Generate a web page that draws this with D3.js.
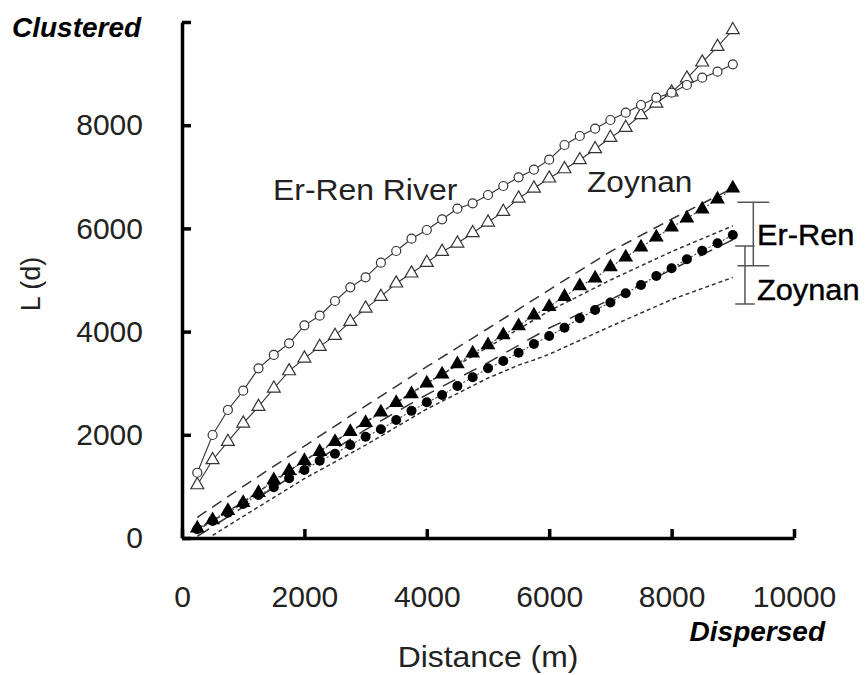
<!DOCTYPE html>
<html>
<head>
<meta charset="utf-8">
<script src="https://cdn.jsdelivr.net/npm/d3@7"></script>
<style>
  body { margin: 0; background: #fff; }
  svg { font-family: "Liberation Sans", Arial, sans-serif; }
</style>
</head>
<body>
<div id="chart"></div>
<script>
// distance classes (m)
const distances = [250, 500, 750, 1000, 1250, 1500, 1750, 2000, 2250, 2500, 2750, 3000,
  3250, 3500, 3750, 4000, 4250, 4500, 4750, 5000, 5250, 5500, 5750, 6000,
  6250, 6500, 6750, 7000, 7250, 7500, 7750, 8000, 8250, 8500, 8750, 9000];

// observed L(d)
const erRenObs = [1265, 1996, 2481, 2855, 3288, 3547, 3773, 4122, 4308, 4593, 4858, 5052,
  5336, 5562, 5800, 5969, 6176, 6382, 6486, 6647, 6822, 6990, 7138, 7332,
  7616, 7791, 7932, 8101, 8242, 8391, 8533, 8630, 8779, 8921, 9037, 9180];
const zoynanObs = [1027, 1512, 1866, 2222, 2545, 2901, 3236, 3482, 3708, 3921, 4192, 4451,
  4677, 4936, 5130, 5336, 5549, 5711, 5911, 6118, 6324, 6583, 6777, 6971,
  7151, 7326, 7539, 7758, 7952, 8198, 8424, 8638, 8909, 9219, 9521, 9845];

// simulated means
const erRenSim = [188, 349, 529, 684, 878, 1124, 1304, 1498, 1672, 1866, 2060, 2234,
  2436, 2622, 2791, 2998, 3172, 3372, 3579, 3740, 3934, 4109, 4316, 4483,
  4677, 4884, 5033, 5252, 5440, 5634, 5828, 6021, 6196, 6370, 6564, 6777];
const zoynanSim = [170, 330, 490, 659, 833, 982, 1157, 1318, 1498, 1634, 1802, 1963,
  2107, 2287, 2464, 2630, 2771, 2946, 3114, 3288, 3430, 3591, 3760, 3915,
  4076, 4258, 4419, 4564, 4742, 4903, 5078, 5227, 5401, 5568, 5711, 5872];

// envelopes
const envDist = [250, 1000, 2000, 3000, 4000, 5000, 6000, 7000, 8000, 9000];
const erRenUpper = [400, 1000, 1780, 2560, 3320, 4060, 4810, 5550, 6180, 6780];
const erRenLower = [30, 600, 1350, 2100, 2780, 3400, 4070, 4620, 5200, 5780];
const zoynanUpper = [150, 700, 1500, 2250, 3000, 3700, 4400, 5000, 5550, 6050];
const zoynanLowDist = [500, 1000, 2000, 3000, 4000, 5000, 5500, 5750, 6000, 7000, 8000, 9000];
const zoynanLower = [50, 420, 1150, 1800, 2500, 3100, 3350, 3450, 3560, 4100, 4620, 5050];

// range bars at the right
const barNames = ["Er-Ren", "Zoynan"];
const barX = [9335, 9199];
const barHalf = [260, 160];
const barLow = [5277, 4535];
const barHigh = [6506, 5659];

const xTicks = [0, 2000, 4000, 6000, 8000, 10000];
const yTicks = [0, 2000, 4000, 6000, 8000, 10000];

const width = 867, height = 675;
const svg = d3.select("#chart").append("svg")
  .attr("width", width)
  .attr("height", height);

const x = d3.scaleLinear().domain([0, 10000]).range([182, 794]);
const y = d3.scaleLinear().domain([0, 10000]).range([538, 22]);

// axes
const xAxis = svg.append("g")
  .attr("transform", `translate(0,${y(0)})`)
  .call(d3.axisBottom(x).tickValues(xTicks).tickSizeInner(-9).tickSizeOuter(0).tickPadding(48)
    .tickFormat(d => String(d)));
const yAxis = svg.append("g")
  .attr("transform", `translate(${x(0)},0)`)
  .call(d3.axisLeft(y).tickValues(yTicks).tickSizeInner(-9).tickSizeOuter(0).tickPadding(39)
    .tickFormat(d => d === 10000 ? "" : String(d)));

[xAxis, yAxis].forEach(a => {
  a.select(".domain").attr("stroke", "#000").attr("stroke-width", 3.5);
  a.selectAll(".tick line").attr("stroke", "#000").attr("stroke-width", 3.5);
  a.selectAll(".tick text").attr("font-size", 30).attr("fill", "#222")
    .attr("font-family", "Liberation Sans, Arial, sans-serif");
});

const line = d3.line().x(d => x(d[0])).y(d => y(d[1]));
const zip = (a, b) => a.map((v, i) => [v, b[i]]);

// envelope lines
svg.append("path").datum(zip(envDist, erRenUpper))
  .attr("d", line).attr("fill", "none").attr("stroke", "#333")
  .attr("stroke-width", 1.5).attr("stroke-dasharray", "11,7");
svg.append("path").datum(zip(envDist, erRenLower))
  .attr("d", line).attr("fill", "none").attr("stroke", "#333")
  .attr("stroke-width", 1.5).attr("stroke-dasharray", "14,10");
svg.append("path").datum(zip(envDist, zoynanUpper))
  .attr("d", line).attr("fill", "none").attr("stroke", "#333")
  .attr("stroke-width", 1.5).attr("stroke-dasharray", "4,3");
svg.append("path").datum(zip(zoynanLowDist, zoynanLower))
  .attr("d", line).attr("fill", "none").attr("stroke", "#333")
  .attr("stroke-width", 1.5).attr("stroke-dasharray", "4,3");

// simulated means
svg.append("path").datum(zip(distances, erRenSim))
  .attr("d", line).attr("fill", "none").attr("stroke", "#444")
  .attr("stroke-width", 1.1).attr("stroke-dasharray", "2,2");
svg.append("path").datum(zip(distances, zoynanSim))
  .attr("d", line).attr("fill", "none").attr("stroke", "#444")
  .attr("stroke-width", 1.1).attr("stroke-dasharray", "2,2");

svg.append("g").selectAll("path")
  .data(zip(distances, erRenSim))
  .enter().append("path")
  .attr("transform", d => `translate(${x(d[0])},${y(d[1])})`)
  .attr("d", d3.symbol().type(d3.symbolTriangle).size(95))
  .attr("fill", "#000");
svg.append("g").selectAll("circle")
  .data(zip(distances, zoynanSim))
  .enter().append("circle")
  .attr("cx", d => x(d[0])).attr("cy", d => y(d[1]))
  .attr("r", 5).attr("fill", "#000");

// observed
svg.append("path").datum(zip(distances, zoynanObs))
  .attr("d", line).attr("fill", "none").attr("stroke", "#333").attr("stroke-width", 1.1);
svg.append("path").datum(zip(distances, erRenObs))
  .attr("d", line).attr("fill", "none").attr("stroke", "#333").attr("stroke-width", 1.1);

svg.append("g").selectAll("path")
  .data(zip(distances, zoynanObs))
  .enter().append("path")
  .attr("transform", d => `translate(${x(d[0])},${y(d[1])})`)
  .attr("d", d3.symbol().type(d3.symbolTriangle).size(72))
  .attr("fill", "#fff").attr("stroke", "#333").attr("stroke-width", 1.2);
svg.append("g").selectAll("circle")
  .data(zip(distances, erRenObs))
  .enter().append("circle")
  .attr("cx", d => x(d[0])).attr("cy", d => y(d[1]))
  .attr("r", 4.5).attr("fill", "#fff").attr("stroke", "#333").attr("stroke-width", 1.2);

// range bars
const bars = svg.append("g").attr("stroke", "#555").attr("stroke-width", 1.5);
barNames.forEach((n, i) => {
  bars.append("line")
    .attr("x1", x(barX[i])).attr("x2", x(barX[i]))
    .attr("y1", y(barLow[i])).attr("y2", y(barHigh[i]));
  [barLow[i], barHigh[i]].forEach(v => {
    bars.append("line")
      .attr("x1", x(barX[i] - barHalf[i])).attr("x2", x(barX[i] + barHalf[i]))
      .attr("y1", y(v)).attr("y2", y(v));
  });
});

// texts (source font is slightly wider than Arial, hence the x-stretch)
function label(tx, ty, str, size, fill, sx, anchor) {
  return svg.append("text")
    .attr("transform", `translate(${tx},${ty}) scale(${sx},1)`)
    .attr("text-anchor", anchor || "start")
    .attr("font-size", size).attr("fill", fill)
    .text(str);
}
label(757, 245, "Er-Ren", 29, "#000", 1.06).attr("stroke", "#000").attr("stroke-width", 0.4);
label(757, 300, "Zoynan", 29, "#000", 1.06).attr("stroke", "#000").attr("stroke-width", 0.4);
label(273, 200, "Er-Ren River", 29, "#222", 1.1);
label(587, 192, "Zoynan", 29, "#222", 1.09);

svg.append("text").attr("x", 12).attr("y", 37)
  .attr("font-size", 28).attr("font-weight", "bold").attr("font-style", "italic")
  .text("Clustered");
svg.append("text").attr("x", 825).attr("y", 641).attr("text-anchor", "end")
  .attr("font-size", 28).attr("font-weight", "bold").attr("font-style", "italic")
  .text("Dispersed");

label(488, 667, "Distance (m)", 29, "#222", 1.1, "middle");
svg.append("text").attr("transform", "translate(40,284) rotate(-90)")
  .attr("text-anchor", "middle").attr("font-size", 27).attr("fill", "#222")
  .text("L (d)");
</script>
</body>
</html>
